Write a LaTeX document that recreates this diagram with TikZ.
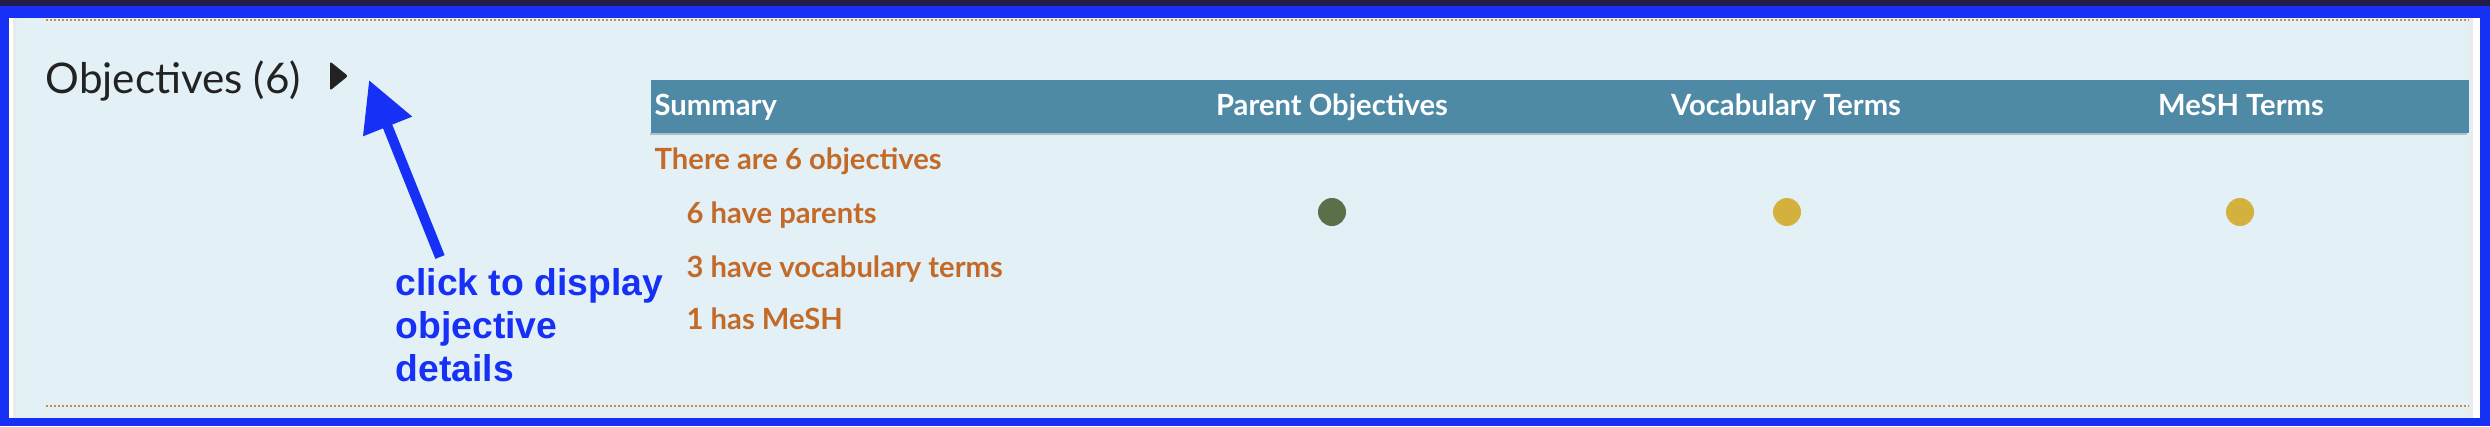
\documentclass[tikz,border=0pt]{standalone}
\usepackage{fontspec}
\setmainfont{Lato}
\newfontfamily\notefont{Liberation Sans}
\usepackage{xcolor}
\usetikzlibrary{shapes,arrows.meta,positioning}

\definecolor{frameblue}{HTML}{1631F5}
\definecolor{topband}{HTML}{221C48}
\definecolor{panelbg}{HTML}{E3F0F5}
\definecolor{edgegrey}{HTML}{E8ECEE}
\definecolor{headblue}{HTML}{4E89A5}
\definecolor{headrule}{HTML}{A9C1CB}
\definecolor{sumorange}{HTML}{C46A28}
\definecolor{dotrule}{HTML}{CB8A45}
\definecolor{parentgreen}{HTML}{5B7049}
\definecolor{termgold}{HTML}{D4B03C}
\definecolor{titleblack}{HTML}{222222}

\begin{document}
\begin{tikzpicture}[x=0.01cm, y=-0.01cm,
    headtext/.style={text=white, font=\fontsize{8.3}{9.5}\selectfont\bfseries, inner sep=0, anchor=base},
    sumtext/.style={text=sumorange, font=\fontsize{8.3}{9.5}\selectfont\bfseries, inner sep=0, anchor=base west},
    flag/.style={circle, minimum size=0.28cm, inner sep=0},
    dotline/.style={dotrule, line width=0.02cm, dash pattern=on 0.02cm off 0.02cm}]
    \useasboundingbox (0,0) rectangle (2490,426);
    \fill[frameblue] (0,0) rectangle (2490,426);
    \fill[topband] (0,0) rectangle (2490,6);
    \fill[white] (9,18) rectangle (2480,418);
    \fill[edgegrey] (13,18) rectangle (2473,418);
    \fill[panelbg] (17,18) rectangle (2468,418);

    \draw[dotline] (46,20) -- (2468,20);
    \draw[dotline] (46,406) -- (2468,406);

    \node (title) [text=titleblack, font=\fontsize{12}{14}\selectfont, inner sep=0, anchor=base west] at (45,93) {Objectives (6)};
    \node (toggle) [isosceles triangle, isosceles triangle stretches, fill=titleblack, rounded corners=0.6pt, minimum width=0.29cm, minimum height=0.18cm, inner sep=0] at (337,76) {};

    \node (header) [fill=headblue, anchor=north west, minimum width=18.17cm, minimum height=0.53cm, inner sep=0] at (650,79) {};
    \draw[headrule, line width=0.02cm] (header.south west) ++(0,1) -- ++(1817,0);
    \node (summary) [headtext, anchor=base west] at (654,115) {Summary};
    \node (parents) [headtext] at (1332,115) {Parent Objectives};
    \node (vocab) [headtext] at (1786,115) {Vocabulary Terms};
    \node (mesh) [headtext] at (2241,115) {MeSH Terms};

    \node (total) [sumtext] at (654,169) {There are 6 objectives};
    \node (haveparents) [sumtext] at (686,223) {6 have parents};
    \node (havevocab) [sumtext] at (686,277) {3 have vocabulary terms};
    \node (havemesh) [sumtext] at (686,329) {1 has MeSH};

    \node (parentdot) [flag, fill=parentgreen] at (1332,212) {};
    \node (vocabdot) [flag, fill=termgold] at (1787,212) {};
    \node (meshdot) [flag, fill=termgold] at (2240,212) {};

    \node (hint) [text=frameblue, font=\notefont\fontsize{10.6}{12.2}\selectfont\bfseries, align=left, inner sep=0, anchor=base west] at (395,381) {click to display\\objective\\details};
    \coordinate (arrowtail) at (440,257);
    \coordinate (arrowtip) at (369,80);
    \draw[-{Triangle[length=0.5cm, width=0.5cm]}, frameblue, line width=0.1cm] (arrowtail) -- (arrowtip);
\end{tikzpicture}
\end{document}
